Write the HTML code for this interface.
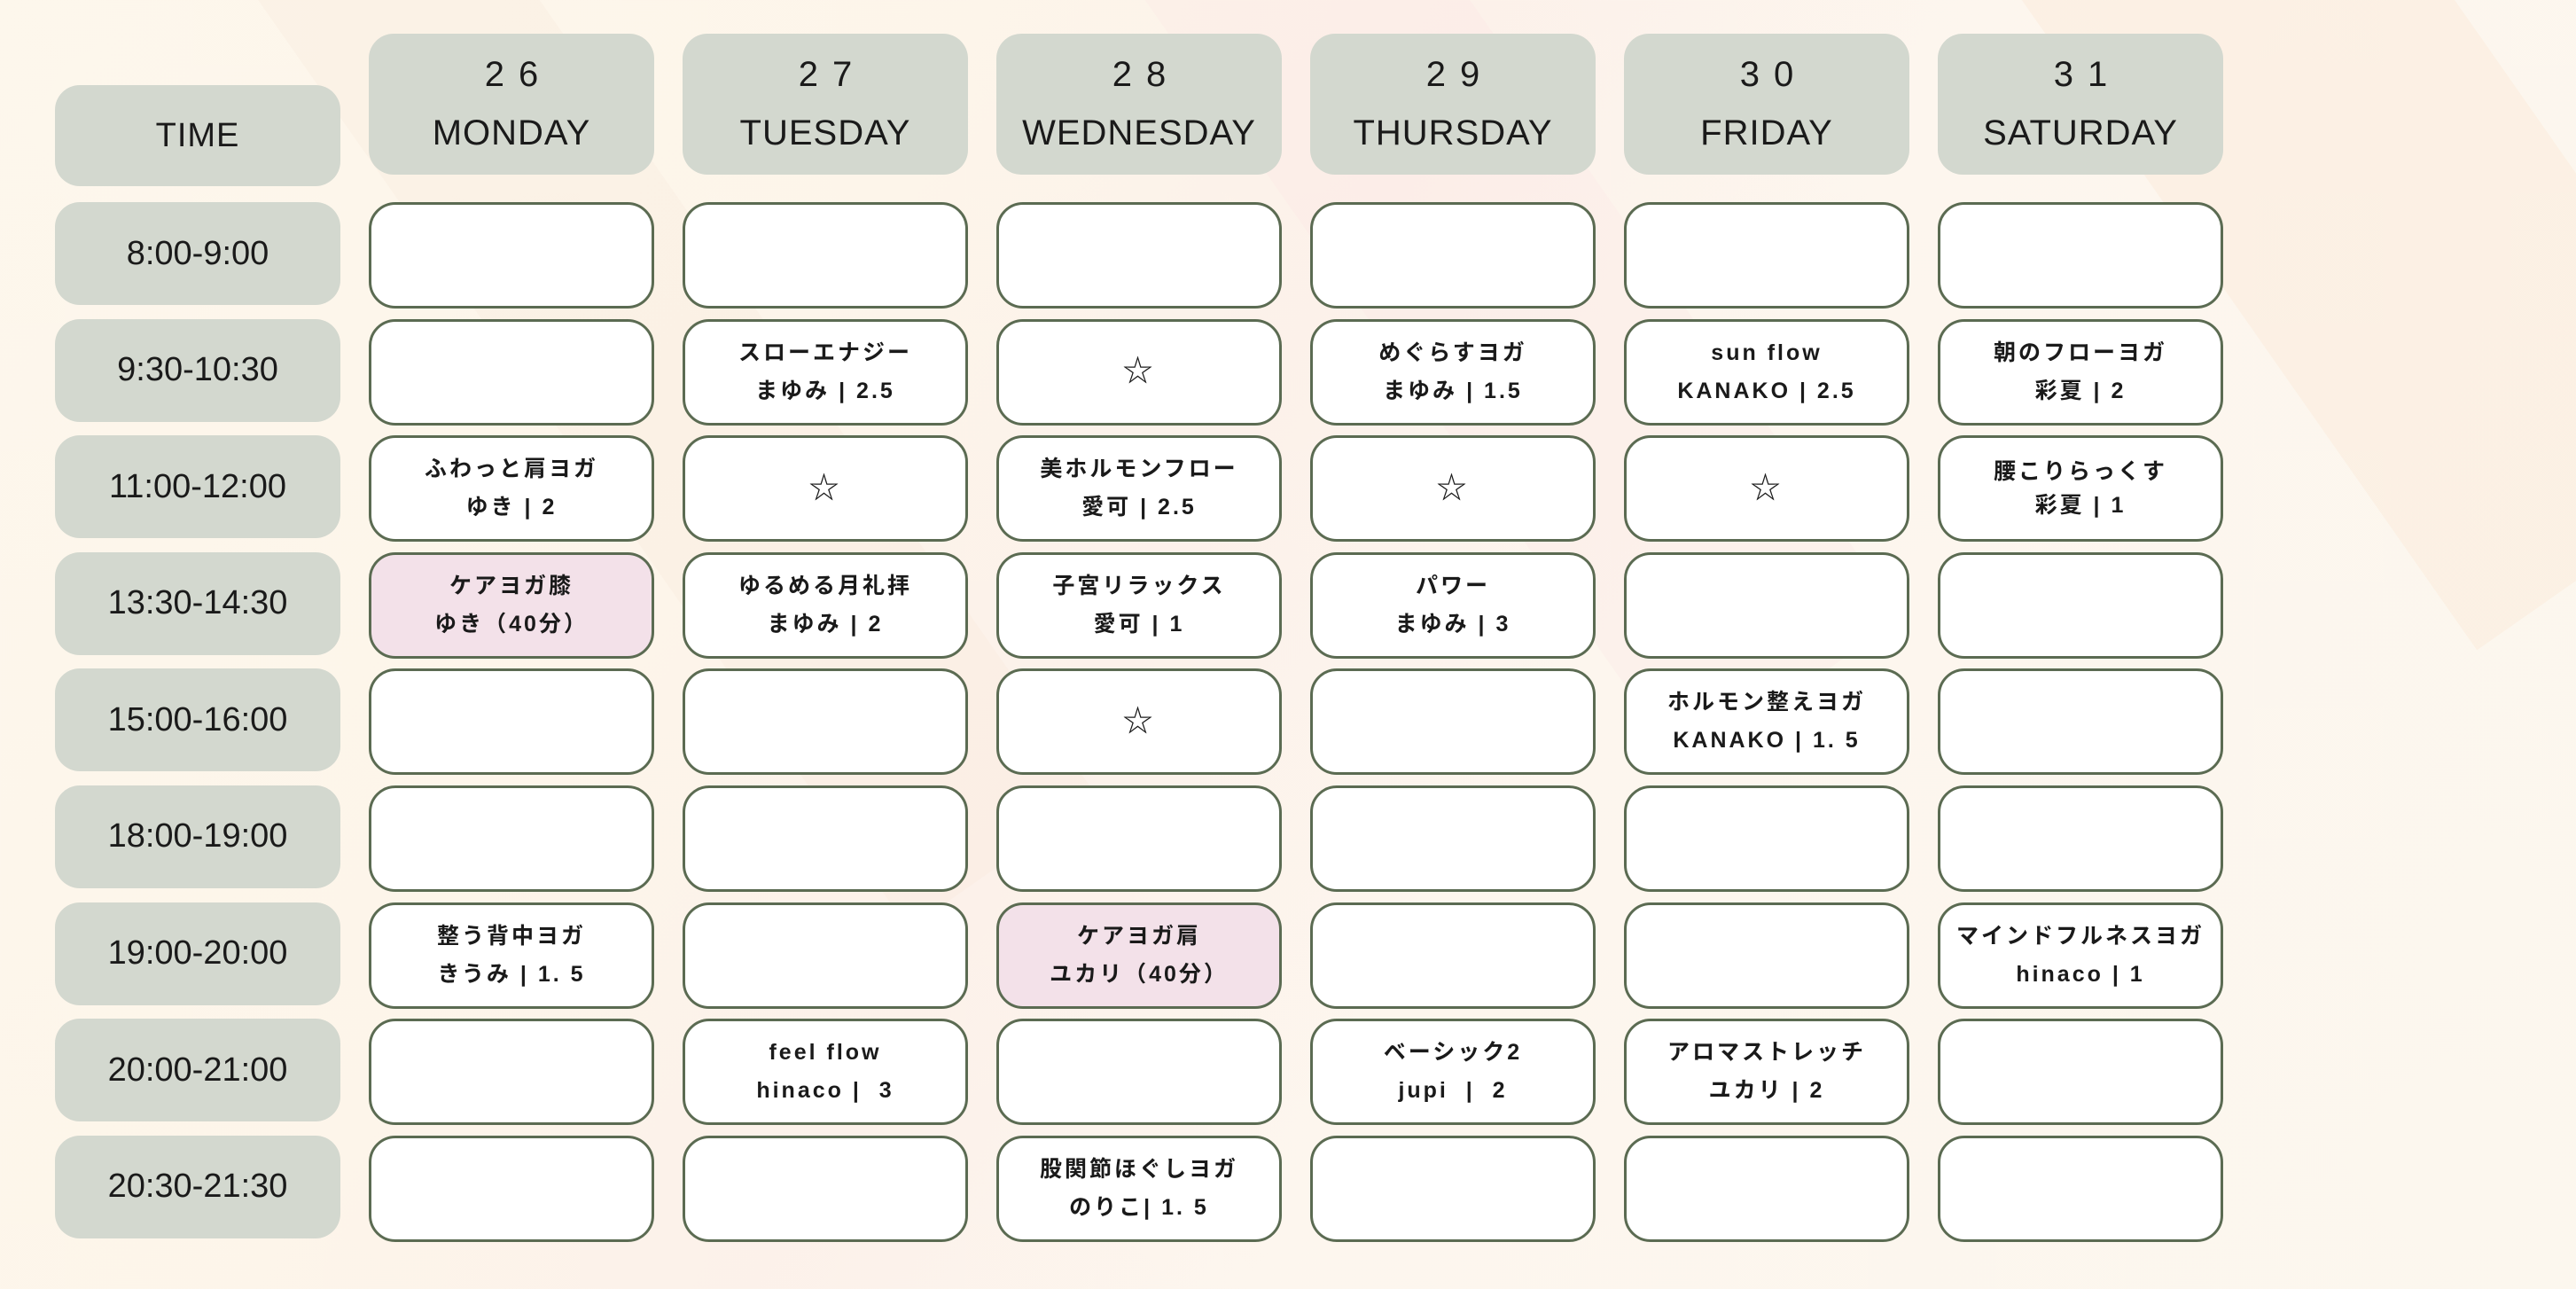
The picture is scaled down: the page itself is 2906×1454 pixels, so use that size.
<!DOCTYPE html>
<html><head><meta charset="utf-8"><style>
html,body{margin:0;padding:0}
body{width:2906px;height:1454px;position:relative;overflow:hidden;
background:linear-gradient(120deg,#fdf7ec 0%,#fdf5ea 30%,#fcf1ea 45%,#fdf6ee 60%,#fcf7ee 100%);
font-family:"Liberation Sans","Noto Sans CJK JP",sans-serif;color:#1a1a1a}
.band{position:absolute;background:rgba(250,232,218,0.3);transform:rotate(-35deg)}
.hd{position:absolute;background:#d3d8cf;border-radius:28px;text-align:center;font-size:40px;letter-spacing:1px}
.grid{position:absolute;left:62px;top:228px;display:grid;grid-template-columns:repeat(7,322px);column-gap:32px;grid-template-rows:repeat(9,116px);row-gap:15.6px}
.t{background:#d3d8cf;border-radius:28px;display:flex;align-items:center;justify-content:center;font-size:38px}
.c{background:#fff;border:3px solid #5b6b52;border-radius:30px;display:flex;flex-direction:column;align-items:center;justify-content:center;font-weight:bold;font-size:25px;letter-spacing:3px;line-height:43px;box-sizing:border-box;height:120px}
.p{background:#f3e1e9}
.s{font-weight:normal;font-size:34px}
.n{margin-top:24px;letter-spacing:16px;line-height:44px;padding-left:16px}
.d{margin-top:22px;line-height:44px}
</style></head><body>
<div class="band" style="left:600px;top:-300px;width:260px;height:1400px"></div>
<div class="band" style="left:1500px;top:-400px;width:300px;height:1300px;background:rgba(250,228,228,0.25)"></div>
<div class="band" style="left:2500px;top:-200px;width:400px;height:900px;background:rgba(248,230,210,0.35)"></div>

<div class="hd" style="left:62px;top:96px;width:322px;height:114px;line-height:114px;font-size:38px">TIME</div>
<div class="hd" style="left:416px;top:38px;width:322px;height:159px"><div class="n">26</div><div class="d">MONDAY</div></div>
<div class="hd" style="left:770px;top:38px;width:322px;height:159px"><div class="n">27</div><div class="d">TUESDAY</div></div>
<div class="hd" style="left:1124px;top:38px;width:322px;height:159px"><div class="n">28</div><div class="d">WEDNESDAY</div></div>
<div class="hd" style="left:1478px;top:38px;width:322px;height:159px"><div class="n">29</div><div class="d">THURSDAY</div></div>
<div class="hd" style="left:1832px;top:38px;width:322px;height:159px"><div class="n">30</div><div class="d">FRIDAY</div></div>
<div class="hd" style="left:2186px;top:38px;width:322px;height:159px"><div class="n">31</div><div class="d">SATURDAY</div></div>

<div class="grid">
<div class="t">8:00-9:00</div><div class="c"></div><div class="c"></div><div class="c"></div><div class="c"></div><div class="c"></div><div class="c"></div>

<div class="t">9:30-10:30</div><div class="c"></div>
<div class="c"><div>スローエナジー</div><div>まゆみ | 2.5</div></div>
<div class="c"><div class="s">☆</div></div>
<div class="c"><div>めぐらすヨガ</div><div>まゆみ | 1.5</div></div>
<div class="c"><div>sun flow</div><div>KANAKO | 2.5</div></div>
<div class="c"><div>朝のフローヨガ</div><div>彩夏 | 2</div></div>

<div class="t">11:00-12:00</div>
<div class="c"><div>ふわっと肩ヨガ</div><div>ゆき | 2</div></div>
<div class="c"><div class="s">☆</div></div>
<div class="c"><div>美ホルモンフロー</div><div>愛可 | 2.5</div></div>
<div class="c"><div class="s">☆</div></div>
<div class="c"><div class="s">☆</div></div>
<div class="c" style="line-height:38px"><div>腰こりらっくす</div><div>彩夏 | 1</div></div>

<div class="t">13:30-14:30</div>
<div class="c p"><div>ケアヨガ膝</div><div>ゆき（40分）</div></div>
<div class="c"><div>ゆるめる月礼拝</div><div>まゆみ | 2</div></div>
<div class="c"><div>子宮リラックス</div><div>愛可 | 1</div></div>
<div class="c"><div>パワー</div><div>まゆみ | 3</div></div>
<div class="c"></div><div class="c"></div>

<div class="t">15:00-16:00</div><div class="c"></div><div class="c"></div>
<div class="c"><div class="s">☆</div></div>
<div class="c"></div>
<div class="c"><div>ホルモン整えヨガ</div><div>KANAKO | 1. 5</div></div>
<div class="c"></div>

<div class="t">18:00-19:00</div><div class="c"></div><div class="c"></div><div class="c"></div><div class="c"></div><div class="c"></div><div class="c"></div>

<div class="t">19:00-20:00</div>
<div class="c"><div>整う背中ヨガ</div><div>きうみ | 1. 5</div></div>
<div class="c"></div>
<div class="c p"><div>ケアヨガ肩</div><div>ユカリ（40分）</div></div>
<div class="c"></div><div class="c"></div>
<div class="c"><div>マインドフルネスヨガ</div><div>hinaco | 1</div></div>

<div class="t">20:00-21:00</div><div class="c"></div>
<div class="c"><div>feel flow</div><div>hinaco |&nbsp; 3</div></div>
<div class="c"></div>
<div class="c"><div>ベーシック2</div><div>jupi &nbsp;| &nbsp;2</div></div>
<div class="c"><div>アロマストレッチ</div><div>ユカリ | 2</div></div>
<div class="c"></div>

<div class="t">20:30-21:30</div><div class="c"></div><div class="c"></div>
<div class="c"><div>股関節ほぐしヨガ</div><div>のりこ| 1. 5</div></div>
<div class="c"></div><div class="c"></div><div class="c"></div>
</div>
</body></html>
